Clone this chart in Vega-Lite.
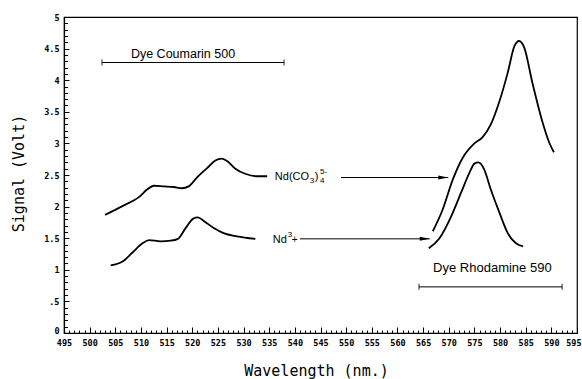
{
  "$schema": "https://vega.github.io/schema/vega-lite/v6.json",
  "width": 513,
  "height": 316,
  "autosize": {"type": "none"},
  "padding": {"left": 64, "top": 17, "right": 5, "bottom": 46},
  "background": "white",
  "config": {
    "view": {"stroke": "black", "strokeWidth": 1.2},
    "axis": {
      "domainColor": "black", "domainWidth": 1.2, "tickColor": "black", "tickWidth": 1,
      "labelColor": "black", "labelFont": "DejaVu Sans Mono", "labelFontWeight": "bold", "labelFontSize": 8.5,
      "titleColor": "black", "titleFont": "DejaVu Sans Mono", "titleFontWeight": "normal", "titleFontSize": 15,
      "grid": false, "labelOverlap": false, "labelFlush": false
    }
  },
  "encoding": {
    "x": {
      "field": "x", "type": "quantitative",
      "scale": {"domain": [495, 595], "nice": false, "zero": false},
      "axis": {
        "title": "Wavelength (nm.)",
        "values": [495,496,497,498,499,500,501,502,503,504,505,506,507,508,509,510,511,512,513,514,515,516,517,518,519,520,521,522,523,524,525,526,527,528,529,530,531,532,533,534,535,536,537,538,539,540,541,542,543,544,545,546,547,548,549,550,551,552,553,554,555,556,557,558,559,560,561,562,563,564,565,566,567,568,569,570,571,572,573,574,575,576,577,578,579,580,581,582,583,584,585,586,587,588,589,590,591,592,593,594,595],
        "labelExpr": "datum.value % 5 === 0 ? format(datum.value, 'd') : ''",
        "tickSize": {"condition": {"test": "datum.value % 5 === 0", "value": -6}, "value": -3},
        "labelAlign": {"condition": {"test": "datum.value === 595", "value": "right"}, "value": "center"},
        "labelOffset": {"condition": {"test": "datum.value === 595", "value": 4}, "value": 0},
        "labelPadding": 11, "titleX": 252, "titleY": 37, "titleBaseline": "middle", "titleAlign": "center"
      }
    },
    "y": {
      "field": "y", "type": "quantitative",
      "scale": {"domain": [0, 5], "nice": false, "zero": false},
      "axis": {
        "title": "Signal (Volt)",
        "values": [0,0.1,0.2,0.3,0.4,0.5,0.6,0.7,0.8,0.9,1,1.1,1.2,1.3,1.4,1.5,1.6,1.7,1.8,1.9,2,2.1,2.2,2.3,2.4,2.5,2.6,2.7,2.8,2.9,3,3.1,3.2,3.3,3.4,3.5,3.6,3.7,3.8,3.9,4,4.1,4.2,4.3,4.4,4.5,4.6,4.7,4.8,4.9,5],
        "labelExpr": "round(datum.value * 10) % 5 !== 0 ? '' : (round(datum.value * 10) === 5 ? '.5' : format(datum.value, '~g'))",
        "tickSize": {"condition": {"test": "round(datum.value * 10) % 5 === 0", "value": -5}, "value": -3.5},
        "labelOffset": {"condition": {"test": "datum.value === 0", "value": -3}, "value": 0},
        "labelPadding": 10, "titleX": -46, "titleY": 156, "titleBaseline": "middle", "titleAlign": "center"
      }
    }
  },
  "layer": [
    {
      "data": {"values": [
        {"s": "a", "x": 503.0, "y": 1.87}, {"s": "a", "x": 506.7, "y": 2.02}, {"s": "a", "x": 509.6, "y": 2.15},
        {"s": "a", "x": 511.2, "y": 2.27}, {"s": "a", "x": 512.5, "y": 2.33}, {"s": "a", "x": 514.5, "y": 2.32},
        {"s": "a", "x": 516.4, "y": 2.31}, {"s": "a", "x": 518.0, "y": 2.29}, {"s": "a", "x": 519.3, "y": 2.32},
        {"s": "a", "x": 520.9, "y": 2.46}, {"s": "a", "x": 522.9, "y": 2.61}, {"s": "a", "x": 524.5, "y": 2.73},
        {"s": "a", "x": 525.7, "y": 2.76}, {"s": "a", "x": 526.8, "y": 2.72}, {"s": "a", "x": 528.4, "y": 2.60},
        {"s": "a", "x": 530.3, "y": 2.52}, {"s": "a", "x": 532.6, "y": 2.48}, {"s": "a", "x": 534.6, "y": 2.48},
        {"s": "b", "x": 504.1, "y": 1.07}, {"s": "b", "x": 506.4, "y": 1.13}, {"s": "b", "x": 508.3, "y": 1.27},
        {"s": "b", "x": 510.3, "y": 1.42}, {"s": "b", "x": 511.6, "y": 1.47}, {"s": "b", "x": 513.8, "y": 1.45},
        {"s": "b", "x": 515.8, "y": 1.46}, {"s": "b", "x": 517.2, "y": 1.49}, {"s": "b", "x": 518.7, "y": 1.66},
        {"s": "b", "x": 520.2, "y": 1.81}, {"s": "b", "x": 521.1, "y": 1.83}, {"s": "b", "x": 522.3, "y": 1.77},
        {"s": "b", "x": 524.2, "y": 1.66}, {"s": "b", "x": 526.1, "y": 1.58}, {"s": "b", "x": 528.7, "y": 1.53},
        {"s": "b", "x": 532.3, "y": 1.49},
        {"s": "c", "x": 566.9, "y": 1.61}, {"s": "c", "x": 568.8, "y": 1.95}, {"s": "c", "x": 570.8, "y": 2.43},
        {"s": "c", "x": 572.7, "y": 2.77}, {"s": "c", "x": 575.0, "y": 3.0}, {"s": "c", "x": 576.6, "y": 3.1},
        {"s": "c", "x": 578.2, "y": 3.3}, {"s": "c", "x": 579.9, "y": 3.67}, {"s": "c", "x": 581.5, "y": 4.12},
        {"s": "c", "x": 582.8, "y": 4.54}, {"s": "c", "x": 583.7, "y": 4.62}, {"s": "c", "x": 584.7, "y": 4.52},
        {"s": "c", "x": 586.3, "y": 3.96}, {"s": "c", "x": 588.3, "y": 3.33}, {"s": "c", "x": 589.6, "y": 3.01},
        {"s": "c", "x": 590.5, "y": 2.86},
        {"s": "d", "x": 566.1, "y": 1.34}, {"s": "d", "x": 568.2, "y": 1.50}, {"s": "d", "x": 570.5, "y": 1.85},
        {"s": "d", "x": 572.4, "y": 2.22}, {"s": "d", "x": 574.0, "y": 2.53}, {"s": "d", "x": 575.0, "y": 2.68},
        {"s": "d", "x": 575.8, "y": 2.70}, {"s": "d", "x": 576.9, "y": 2.59}, {"s": "d", "x": 578.2, "y": 2.27},
        {"s": "d", "x": 579.9, "y": 1.90}, {"s": "d", "x": 581.5, "y": 1.58}, {"s": "d", "x": 583.1, "y": 1.42},
        {"s": "d", "x": 584.5, "y": 1.37}
      ]},
      "mark": {"type": "line", "interpolate": "monotone", "color": "black", "strokeWidth": 1.8},
      "encoding": {"detail": {"field": "s"}}
    },
    {
      "data": {"values": [
        {"name": "Dye Coumarin 500", "x": 502.4, "x2": 537.9, "y": 4.28},
        {"name": "Dye Rhodamine 590", "x": 564.2, "x2": 592.1, "y": 0.73}
      ]},
      "mark": {"type": "rule", "color": "black", "strokeWidth": 1},
      "encoding": {"x2": {"field": "x2"}}
    },
    {
      "data": {"values": [
        {"name": "Dye Coumarin 500", "x": 502.4, "x2": 537.9, "y": 4.28},
        {"name": "Dye Rhodamine 590", "x": 564.2, "x2": 592.1, "y": 0.73}
      ]},
      "transform": [{"fold": ["x", "x2"], "as": ["end", "x"]}],
      "mark": {"type": "tick", "orient": "vertical", "color": "black", "size": 6, "thickness": 1.2}
    },
    {
      "data": {"values": [
        {"label": "Nd(CO3)4 5-", "x": 549.0, "x2": 569.9, "y": 2.46},
        {"label": "Nd3+", "x": 541.0, "x2": 566.3, "y": 1.49}
      ]},
      "mark": {"type": "rule", "color": "black", "strokeWidth": 1},
      "encoding": {"x2": {"field": "x2"}}
    },
    {
      "data": {"values": [
        {"label": "Nd(CO3)4 5-", "x": 549.0, "x2": 569.9, "y": 2.46},
        {"label": "Nd3+", "x": 541.0, "x2": 566.3, "y": 1.49}
      ]},
      "transform": [{"fold": ["x2"], "as": ["end", "x"]}],
      "mark": {"type": "point", "shape": "M-2,-0.4L0,0L-2,0.4Z", "filled": true, "color": "black", "size": 100, "opacity": 1}
    },
    {
      "data": {"values": [{"t": "Dye Coumarin 500", "x": 518.2, "y": 4.41}]},
      "mark": {"type": "text", "font": "Liberation Sans", "fontSize": 12.5, "color": "black", "align": "center", "baseline": "middle"},
      "encoding": {"text": {"field": "t"}}
    },
    {
      "data": {"values": [{"t": "Dye Rhodamine 590", "x": 578.5, "y": 1.03}]},
      "mark": {"type": "text", "font": "Liberation Sans", "fontSize": 13, "color": "black", "align": "center", "baseline": "middle"},
      "encoding": {"text": {"field": "t"}}
    },
    {
      "data": {"values": [
        {"t": "Nd(CO", "x": 536.1, "y": 2.47},
        {"t": ")", "x": 543.9, "y": 2.47},
        {"t": "Nd", "x": 535.7, "y": 1.47}
      ]},
      "mark": {"type": "text", "font": "Liberation Sans", "fontSize": 11, "color": "black", "align": "left", "baseline": "middle"},
      "encoding": {"text": {"field": "t"}}
    },
    {
      "data": {"values": [
        {"t": "3", "x": 542.9, "y": 2.47},
        {"t": "4", "x": 544.9, "y": 2.47}
      ]},
      "mark": {"type": "text", "font": "Liberation Sans", "fontSize": 8, "color": "black", "align": "left", "baseline": "middle", "dy": 4},
      "encoding": {"text": {"field": "t"}}
    },
    {
      "data": {"values": [
        {"t": "5-", "x": 544.9, "y": 2.47},
        {"t": "3", "x": 538.6, "y": 1.47}
      ]},
      "mark": {"type": "text", "font": "Liberation Sans", "fontSize": 8, "color": "black", "align": "left", "baseline": "middle", "dy": -5},
      "encoding": {"text": {"field": "t"}}
    },
    {
      "data": {"values": [{"t": "+", "x": 539.4, "y": 1.47}]},
      "mark": {"type": "text", "font": "Liberation Sans", "fontSize": 10, "color": "black", "align": "left", "baseline": "middle"},
      "encoding": {"text": {"field": "t"}}
    }
  ]
}
